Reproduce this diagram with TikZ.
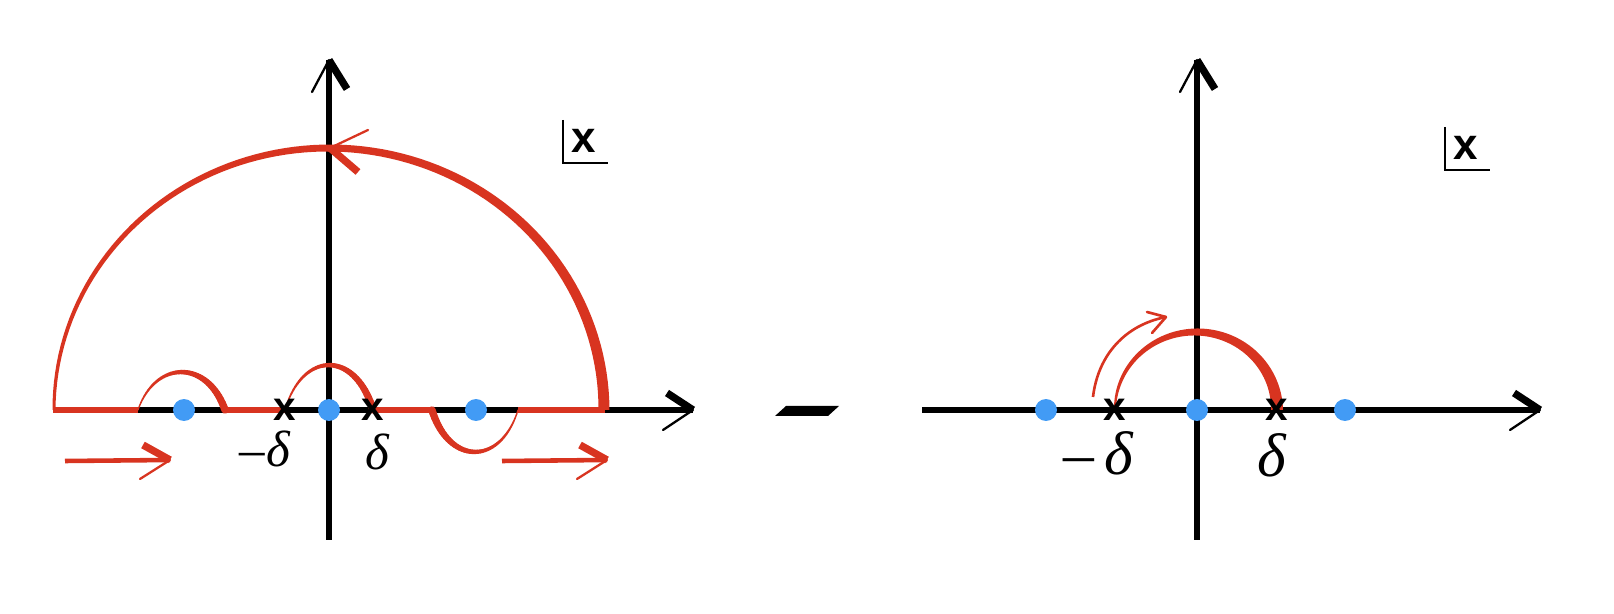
\documentclass[tikz,border=0pt]{standalone}
\usepackage{fontspec}
\newfontfamily\helvb{Liberation Sans}[BoldFont={* Bold}]
\newfontfamily\timesf{Liberation Serif}[ItalicFont={* Italic}]
\definecolor{redc}{RGB}{216,52,32}
\definecolor{bluec}{RGB}{66,155,245}
% tapered half ellipse: cx cy rx ry wleft wright sign(1 up,-1 down)
\newcommand\taperarc[7]{%
  \fill[redc] plot[domain=180:0,samples=90] ({#1+(#3+0.5*(#5+(#6-#5)*(180-\x)/180))*cos(\x)},{#2-(#7)*(#4+0.5*(#5+(#6-#5)*(180-\x)/180))*sin(\x)})
   -- plot[domain=0:180,samples=90] ({#1+(#3-0.5*(#5+(#6-#5)*(180-\x)/180))*cos(\x)},{#2-(#7)*(#4-0.5*(#5+(#6-#5)*(180-\x)/180))*sin(\x)}) -- cycle;}
% tapered rounded bump (cubic Bezier shape): x0 x1 cy h wleft wright sign
\newcommand\bezbump[7]{%
  \foreach \i in {0,...,39}{%
    \pgfmathsetmacro\sa{\i/40}%
    \pgfmathsetmacro\sb{(\i+1)/40}%
    \pgfmathsetmacro\ww{(#5+(#6-#5)*(\i+0.5)/40)*0.567}%
    \draw[redc,line width=\ww pt,line cap=round] plot[domain=\sa:\sb,samples=4] ({#1+(#2-#1)*(0.6*\x*(1-\x)^2+2.4*\x^2*(1-\x)+\x^3)},{#3-(#7)*1.33*#4*3*\x*(1-\x)});
  }}
\tikzset{
  axis/.style={line width=3.1pt},
  redline/.style={redc,line width=3.7pt},
  thickbarb/.style={line width=4.2pt,line cap=butt},
  thinbarb/.style={line width=1.3pt,line cap=round},
  dot/.style={circle,fill=bluec,inner sep=0pt,minimum size=12.5pt},
  cross/.style={inner sep=0pt,font=\helvb\bfseries\fontsize{23}{23}\selectfont},
  smalllab/.style={inner sep=0pt,font=\timesf\itshape\fontsize{29}{29}\selectfont},
  biglab/.style={inner sep=0pt,font=\timesf\itshape\fontsize{35}{35}\selectfont},
  boxx/.style={inner sep=0pt,font=\helvb\bfseries\fontsize{25}{25}\selectfont},
}
\begin{document}
\begin{tikzpicture}[x=0.02cm,y=-0.02cm]
\useasboundingbox (0,0) rectangle (1614,614);
% ---------- left panel ----------
\coordinate (LO) at (53,410);
\coordinate (LE) at (693,410);
\coordinate (LB) at (329,540);
\coordinate (LT) at (329,60);
\draw[axis] (LO) -- (LE);
\draw[axis] (LB) -- (LT);
\draw[thickbarb] (LE) -- ++(-26,-17);
\draw[thinbarb] (LE) -- ++(-30,20);
\draw[thinbarb] (LT) -- ++(-17,32);
\draw[thickbarb] (LT) -- ++(18,29);
% detours (drawn first, horizontal red pieces on top)
\bezbump{138}{225}{410}{38}{1.2}{7.5}{1}
\bezbump{285}{373}{410}{45}{1.2}{7.5}{1}
\bezbump{432}{518}{410}{42}{7.5}{1.2}{-1}
% red contour, horizontal pieces
\coordinate (r1) at (138,410); \coordinate (r2) at (225,410);
\coordinate (r3) at (285,410); \coordinate (r4) at (373,410);
\coordinate (r5) at (432,410); \coordinate (r6) at (518,410);
\coordinate (r7) at (605,410);
\draw[redline] (LO) -- (r1);
\draw[redline] (r2) -- (r3);
\draw[redline] (r4) -- (r5);
\draw[redline] (r6) -- (r7);
% big arc
\taperarc{329}{410}{275}{262}{3}{11}{1}
% arrow head on big arc
\coordinate (AT) at (330,148);
\draw[redc,thinbarb] (AT) -- (368,130);
\draw[redc,thickbarb] (AT) -- (358,172);
% points
\node[dot] (d1) at (184,410) {};
\node[dot] (d2) at (329,410) {};
\node[dot] (d3) at (476,410) {};
\node[cross] (x1) at (285,410) {x};
\node[cross] (x2) at (373,410) {x};
\node[smalllab] (l1) at (265,449) {{\upshape\char"2013}\kern1pt δ};
\node[smalllab] (l2) at (377,452) {δ};
% direction arrows
\coordinate (a1s) at (65,461); \coordinate (a1e) at (170,460);
\draw[redc,line width=2.6pt] (a1s) -- (a1e);
\draw[redc,thickbarb] (a1e) -- ++(-27,-15);
\draw[redc,thinbarb] (a1e) -- ++(-30,19);
\coordinate (a2s) at (502,461); \coordinate (a2e) at (607,460);
\draw[redc,line width=2.6pt] (a2s) -- (a2e);
\draw[redc,thickbarb] (a2e) -- ++(-27,-15);
\draw[redc,thinbarb] (a2e) -- ++(-30,19);
% |x label
\coordinate (b1) at (563,120); \coordinate (b2) at (563,163); \coordinate (b3) at (608,163);
\draw[line width=1.3pt] (b1) -- (b2) -- (b3);
\node[boxx] (bx1) at (584,141) {x};
% ---------- minus ----------
\fill (775,416) -- (786,406) -- (839,406) -- (828,416) -- cycle;
% ---------- right panel ----------
\coordinate (RO) at (922,410);
\coordinate (RE) at (1540,410);
\coordinate (RB) at (1197,540);
\coordinate (RT) at (1197,60);
\draw[axis] (RO) -- (RE);
\draw[axis] (RB) -- (RT);
\draw[thickbarb] (RE) -- ++(-26,-17);
\draw[thinbarb] (RE) -- ++(-30,20);
\draw[thinbarb] (RT) -- ++(-17,32);
\draw[thickbarb] (RT) -- ++(18,29);
\taperarc{1196}{410}{81}{78}{2}{12}{1}
\coordinate (sa) at (1093,397); \coordinate (sb) at (1166,317);
\draw[redc,line width=1.5pt] (sa) .. controls (1098,355) and (1125,325) .. (sb);
\draw[redc,line width=1.5pt,line cap=round] (sb) -- (1147,312);
\draw[redc,line width=1.5pt,line cap=round] (sb) -- (1152,333);
\node[dot] (e1) at (1046,410) {};
\node[dot] (e2) at (1197,410) {};
\node[dot] (e3) at (1345,410) {};
\node[cross] (y1) at (1115,410) {x};
\node[cross] (y2) at (1277,410) {x};
\node[biglab] (m1) at (1098,453) {{\upshape\char"2013}\kern6pt δ};
\node[biglab] (m2) at (1272,455) {δ};
\coordinate (c1) at (1445,127); \coordinate (c2) at (1445,170); \coordinate (c3) at (1490,170);
\draw[line width=1.3pt] (c1) -- (c2) -- (c3);
\node[boxx] (bx2) at (1466,148) {x};
\end{tikzpicture}
\end{document}
